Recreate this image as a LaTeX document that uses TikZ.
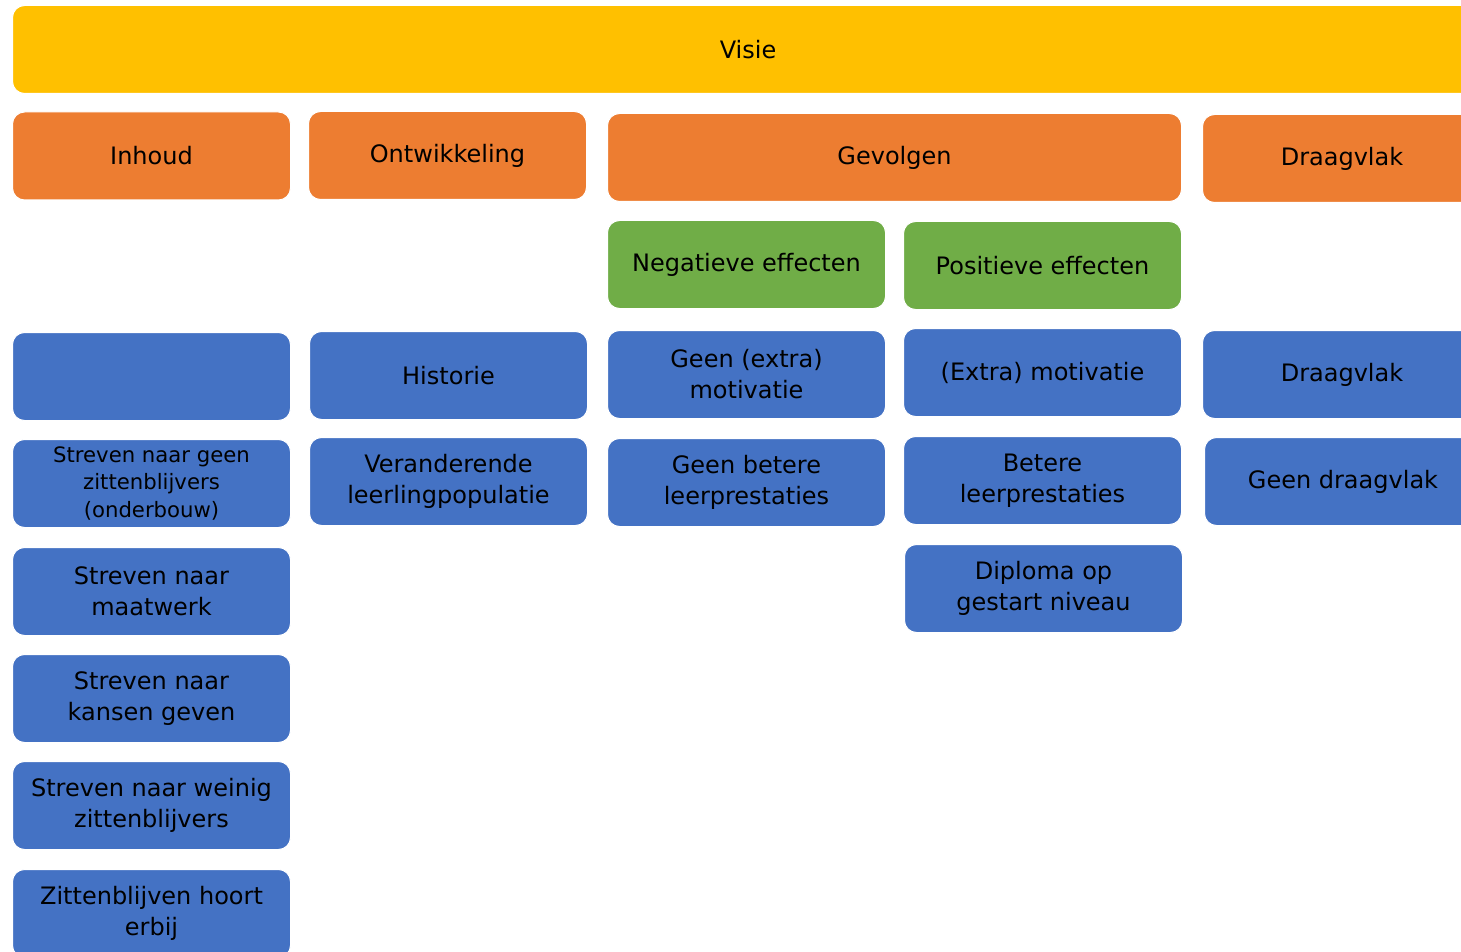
\documentclass[tikz,border=0pt]{standalone}
\usepackage{fontspec}
\setmainfont{DejaVu Sans}
\definecolor{cyellow}{HTML}{FFC000}
\definecolor{corange}{HTML}{ED7D31}
\definecolor{cgreen}{HTML}{70AD47}
\definecolor{cblue}{HTML}{4472C4}
\begin{document}
\begin{tikzpicture}[x=0.5pt,y=-0.5pt,
  box/.style={rounded corners=6pt, draw=white, line width=0.5pt, minimum width=139pt, minimum height=44pt, inner sep=0pt, align=center, text=black, font=\fontsize{12pt}{15.5pt}\selectfont},
  ybox/.style={box, fill=cyellow},
  obox/.style={box, fill=corange},
  gbox/.style={box, fill=cgreen},
  bbox/.style={box, fill=cblue},
  small/.style={font=\fontsize{10.6pt}{13.8pt}\selectfont}]
\useasboundingbox (0,0) rectangle (1461,952);
\clip (0,0) rectangle (1461,952);
\node[ybox, minimum width=735.5pt] (visie) at (748,49.5) {Visie};
\node[obox] (inhoud) at (151.5,156) {Inhoud};
\node[obox] (ontw) at (447.5,155.5) {Ontwikkeling};
\node[obox, minimum width=287pt] (gevolgen) at (894.5,157.5) {Gevolgen};
\node[obox, minimum width=139.5pt] (draagvlakO) at (1342,158.5) {Draagvlak};
\node[gbox] (neg) at (746.5,264.5) {Negatieve effecten};
\node[gbox] (pos) at (1042.5,265.5) {Positieve effecten};
\node[bbox] (leeg) at (151.5,376.5) {};
\node[bbox] (historie) at (448.5,375.5) {Historie};
\node[bbox] (geenmot) at (746.5,374.5) {Geen (extra)\\motivatie};
\node[bbox] (extramot) at (1042.5,372.5) {(Extra) motivatie};
\node[bbox, minimum width=139.5pt] (draagvlakB) at (1342,374.5) {Draagvlak};
\node[bbox, small] (geenzit) at (151.5,483.5) {Streven naar geen\\zittenblijvers\\(onderbouw)};
\node[bbox] (verand) at (448.5,481.5) {Veranderende\\leerlingpopulatie};
\node[bbox] (geenbet) at (746.5,482.5) {Geen betere\\leerprestaties};
\node[bbox] (betere) at (1042.5,480.5) {Betere\\leerprestaties};
\node[bbox, minimum width=138.5pt] (geendraag) at (1343,481.5) {Geen draagvlak};
\node[bbox] (maatwerk) at (151.5,591.5) {Streven naar\\maatwerk};
\node[bbox] (diploma) at (1043.5,588.5) {Diploma op\\gestart niveau};
\node[bbox] (kansen) at (151.5,698.5) {Streven naar\\kansen geven};
\node[bbox] (weinig) at (151.5,805.5) {Streven naar weinig\\zittenblijvers};
\node[bbox] (hoort) at (151.5,913.5) {Zittenblijven hoort\\erbij};
\end{tikzpicture}
\end{document}
